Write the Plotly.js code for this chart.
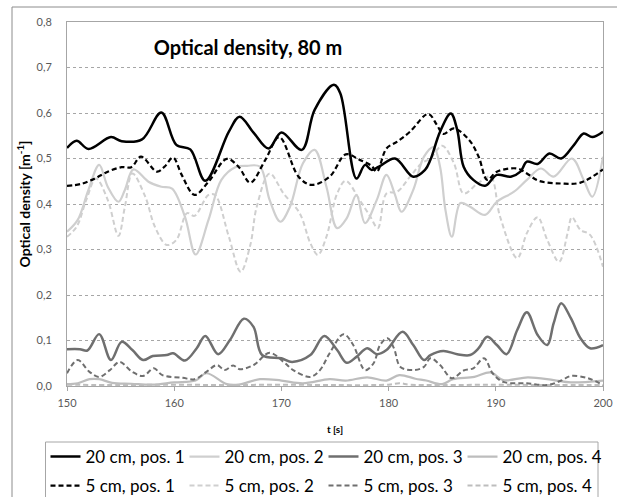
<!DOCTYPE html>
<html>
<head>
<meta charset="utf-8">
<script src="https://cdn.plot.ly/plotly-3.0.1.min.js"></script>
<style>html,body{margin:0;padding:0;background:#fff;}#chart{width:617px;height:497px;}</style>
</head>
<body>
<div id="chart"></div>
<script>
// ---- data ----
const seriesNames = ["20 cm, pos. 1","20 cm, pos. 2","20 cm, pos. 3","20 cm, pos. 4",
                     "5 cm, pos. 1","5 cm, pos. 2","5 cm, pos. 3","5 cm, pos. 4"];

const t_20_1 = [150,150.9,152,154.1,155.1,157,158.8,160.2,161.5,162.9,165.1,166.1,167.4,168.8,170,171.9,173.1,174.9,175.5,177,177.8,178.4,179.1,180.6,182.3,183.4,183.9,184.8,185.8,186.4,187,187.9,189,190.1,191.4,192.3,192.9,193.9,195,196.1,197.3,198.2,199,200];
const v_20_1 = [0.523,0.539,0.521,0.547,0.538,0.542,0.601,0.53,0.52,0.451,0.559,0.592,0.557,0.522,0.557,0.519,0.607,0.662,0.643,0.456,0.486,0.475,0.482,0.5,0.46,0.475,0.497,0.559,0.599,0.563,0.482,0.453,0.44,0.464,0.46,0.471,0.493,0.488,0.511,0.5,0.53,0.555,0.547,0.559];

const t_20_2 = [150,151,152,153,153.8,154.8,155.4,156.2,157.6,158.8,159.8,161,162,163.2,164.4,165.7,166.8,168,168.9,169.9,170.8,172,173.1,174.2,175.2,176.1,177,177.8,178.9,179.8,180.6,181.2,182.3,183.3,184.2,184.8,185.3,185.9,186.7,187.6,189,190.1,191.7,192.9,194.2,195.4,197.1,198.2,199,200];
const v_20_2 = [0.339,0.365,0.431,0.486,0.438,0.405,0.431,0.476,0.449,0.438,0.434,0.372,0.289,0.365,0.453,0.481,0.484,0.482,0.409,0.361,0.394,0.489,0.519,0.438,0.347,0.369,0.42,0.358,0.409,0.464,0.42,0.383,0.431,0.504,0.525,0.482,0.387,0.328,0.402,0.394,0.376,0.405,0.427,0.453,0.478,0.46,0.5,0.453,0.416,0.504];

const t_20_3 = [150,151.2,151.9,153,154.1,155.1,156.1,157.1,158,159.3,159.9,161,162.1,162.9,164.1,165.2,166.5,167.4,168.2,170,171,172.7,174,175.2,176.1,177,178,178.9,179.8,181.3,182.3,183.3,183.9,185.1,186.4,187.6,188.4,189.2,190.1,191,192,192.9,193.9,194.8,195.4,196.1,197,197.9,198.8,200];
const v_20_3 = [0.081,0.081,0.078,0.114,0.057,0.097,0.079,0.057,0.066,0.068,0.072,0.056,0.083,0.11,0.07,0.101,0.148,0.13,0.068,0.061,0.053,0.068,0.11,0.079,0.051,0.064,0.083,0.07,0.079,0.119,0.09,0.057,0.068,0.077,0.07,0.068,0.083,0.108,0.09,0.07,0.123,0.162,0.112,0.09,0.138,0.182,0.149,0.105,0.083,0.09];

const t_20_4 = [150,151,152.1,153,154.2,156,158,160,162,163,164.9,166,168,170,172,174.5,176,178,179.8,181,182.5,183.5,185,186,188,189.5,190.7,193,195.4,197,200];
const v_20_4 = [0.004,0.006,0.015,0.015,0.007,0.005,0.003,0.008,0.012,0.028,0.004,0.003,0.015,0.012,0.006,0.015,0.012,0.019,0.012,0.024,0.016,0.012,0.004,0.015,0.02,0.03,0.013,0.019,0.013,0.008,0.012];

const t_5_1 = [150,151.3,152.6,153.8,155.1,156,156.9,158.4,159.1,159.9,160.7,161.9,163.2,164.9,166,167.1,168.5,169.8,171.6,172.8,174.5,176,177.3,178.4,178.9,179.8,180.8,182,183.7,184.5,185.1,186.1,187.5,188.4,189.2,190.1,192,192.9,194,196.1,197.9,200];
const v_5_1 = [0.44,0.444,0.456,0.471,0.481,0.481,0.504,0.471,0.482,0.502,0.464,0.42,0.449,0.499,0.482,0.447,0.497,0.547,0.46,0.442,0.46,0.509,0.497,0.484,0.471,0.522,0.537,0.559,0.598,0.574,0.554,0.566,0.541,0.504,0.453,0.471,0.478,0.467,0.451,0.445,0.447,0.476];

const t_5_2 = [150,150.9,151.8,152.7,153.8,154.8,155.4,156.1,157.3,158.2,159.3,160.2,161.2,161.9,163.2,163.8,165.1,166.2,167.1,167.7,168.9,170.2,171.7,172.7,173.4,174.2,175.2,176,177.3,178.3,179,179.8,180.8,182,183.1,183.9,185,186.1,187,188.3,189.5,190.4,192,192.9,193.9,194.8,195.9,196.7,197.1,197.9,198.8,200];
const v_5_2 = [0.328,0.35,0.409,0.456,0.409,0.33,0.394,0.467,0.416,0.35,0.31,0.321,0.38,0.374,0.42,0.42,0.328,0.251,0.31,0.394,0.467,0.423,0.38,0.314,0.288,0.328,0.423,0.451,0.409,0.372,0.347,0.423,0.427,0.46,0.49,0.5,0.528,0.489,0.423,0.445,0.46,0.372,0.281,0.336,0.371,0.321,0.273,0.336,0.371,0.343,0.332,0.262];

const t_5_3 = [150,151,152.1,153,154,154.9,156.1,157.1,158.1,158.9,160.8,161.9,163,164,164.7,165.5,166.1,167.4,168.9,170.2,171.1,172.7,173.6,174.5,175.8,176.7,177.8,178.6,179.2,179.9,180.5,181.1,182.3,183.3,183.9,184.8,185.9,187,187.9,188.9,189.7,190.7,192.9,194.8,196.1,197,198.6,200];
const v_5_3 = [0.028,0.057,0.031,0.02,0.035,0.053,0.031,0.022,0.039,0.024,0.018,0.015,0.031,0.046,0.035,0.045,0.037,0.046,0.073,0.053,0.035,0.02,0.035,0.072,0.114,0.09,0.035,0.05,0.09,0.105,0.083,0.042,0.035,0.042,0.061,0.046,0.017,0.034,0.039,0.061,0.028,0.009,0.006,0.002,0.012,0.022,0.017,0.002];

const t_5_4 = [150,155,160,165,170,175,180,181,182,185,190,195,200];
const v_5_4 = [0.003,0.002,0.003,0.002,0.003,0.002,0.003,0.006,0.003,0.002,0.003,0.002,0.002];

const xTicks = [150,160,170,180,190,200];
const yTicks = [0,0.1,0.2,0.3,0.4,0.5,0.6,0.7,0.8];

// ---- styling ----
const styles = [
  {color:'#000000', width:2.5, dash:'solid'},
  {color:'#cfcfcf', width:2.2, dash:'solid'},
  {color:'#6f6f6f', width:2.5, dash:'solid'},
  {color:'#bdbdbd', width:2.2, dash:'solid'},
  {color:'#000000', width:2.2, dash:'5px,3px'},
  {color:'#cfcfcf', width:2, dash:'5px,3px'},
  {color:'#6f6f6f', width:2, dash:'5px,3px'},
  {color:'#bdbdbd', width:2, dash:'5px,3px'}
];
const xs = [t_20_1,t_20_2,t_20_3,t_20_4,t_5_1,t_5_2,t_5_3,t_5_4];
const ys = [v_20_1,v_20_2,v_20_3,v_20_4,v_5_1,v_5_2,v_5_3,v_5_4];
const drawOrder = [7,3,5,1,6,2,4,0];

const traces = drawOrder.map(i => ({
  type:'scatter', mode:'lines', name:seriesNames[i], x:xs[i], y:ys[i],
  legend: i < 4 ? 'legend' : 'legend2',
  legendrank: i+1,
  line:{color:styles[i].color, width:styles[i].width, dash:styles[i].dash, shape:'spline', smoothing:1},
  hoverinfo:'skip'
}));

const font = 'Lato, "Noto Sans", sans-serif';
const PL = 67, PR = 603, PT = 22, PB = 386;
const px2x = p => (p - PL) / (PR - PL);
const px2y = p => (PB - p) / (PB - PT);

const legendCommon = {orientation:'h', xanchor:'left', yanchor:'middle',
  entrywidth:94, entrywidthmode:'pixels', traceorder:'normal',
  bgcolor:'rgba(0,0,0,0)', borderwidth:0,
  font:{family:font, size:17, color:'#000000'}};

const layout = {
  width:617, height:497,
  margin:{l:PL, r:617-PR, t:PT, b:497-PB, autoexpand:false},
  paper_bgcolor:'#ffffff', plot_bgcolor:'#ffffff',
  separators:', ',
  font:{family:font, color:'#404040'},
  title:{text:'<b>Optical density, 80 m</b>', font:{family:font, size:20, color:'#000000'},
         x:248/617, xanchor:'center', y:1-48/497, yanchor:'middle'},
  xaxis:{range:[150,200], tickvals:xTicks, ticktext:xTicks.map(String),
         showgrid:false, zeroline:false, showline:true, mirror:true, linecolor:'#a6a6a6', linewidth:1,
         ticks:'outside', ticklen:4, tickcolor:'#a6a6a6', ticklabelstandoff:3,
         tickfont:{family:font, size:11, color:'#595959'},
         title:{text:'<b>t [s]</b>', font:{family:font, size:10, color:'#000000'}, standoff:17}},
  yaxis:{range:[0,0.8], tickvals:yTicks, tickformat:'.1f',
         showgrid:true, gridcolor:'#a6a6a6', griddash:'dot', gridwidth:1,
         zeroline:false, showline:true, mirror:true, linecolor:'#a6a6a6', linewidth:1,
         ticks:'', ticklabelstandoff:12,
         tickfont:{family:font, size:11, color:'#595959'},
         title:{text:'<b>Optical density [m<sup>-1</sup>]</b>', font:{family:font, size:14, color:'#000000'}, standoff:2}},
  showlegend:true,
  legend:Object.assign({}, legendCommon, {x:px2x(45.5), y:px2y(457)}),
  legend2:Object.assign({}, legendCommon, {x:px2x(45.5), y:px2y(486)}),
  shapes:[
    {type:'rect', xref:'paper', yref:'paper', x0:px2x(12), x1:px2x(640),
     y0:px2y(520), y1:px2y(7), line:{color:'#8c8c8c', width:1}, fillcolor:'rgba(0,0,0,0)', layer:'below'},
    {type:'rect', xref:'paper', yref:'paper', x0:px2x(45.5), x1:px2x(598),
     y0:px2y(515), y1:px2y(442), line:{color:'#a6a6a6', width:1}, fillcolor:'rgba(0,0,0,0)', layer:'below'}
  ]
};

Plotly.newPlot('chart', traces, layout, {displayModeBar:false, staticPlot:true});
</script>
</body>
</html>
